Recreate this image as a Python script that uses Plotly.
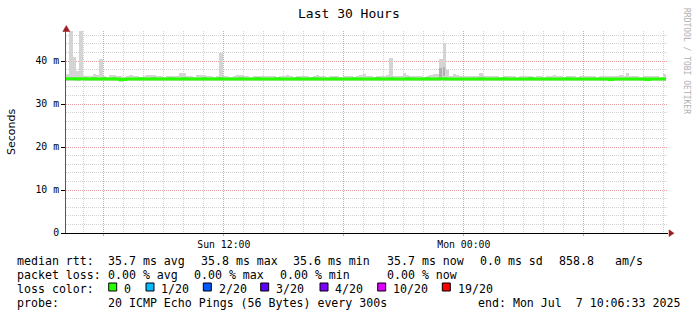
import plotly.graph_objects as go
import pandas as pd

# ---------------- data ----------------
start_time = "2025-07-06 04:06:33"
bin_minutes = 10

median_rtt = [
    35.9, 35.9, 35.9, 35.8, 35.9, 35.9, 35.8, 35.8, 35.9, 35.8, 35.8, 35.9, 35.8, 35.8, 35.9, 35.8, 35.7, 35.7, 35.8, 35.8,
    35.8, 35.8, 35.9, 35.8, 35.8, 35.8, 35.9, 35.8, 35.8, 35.8, 35.8, 35.9, 35.8, 35.8, 35.8, 35.9, 35.8, 35.8, 35.8, 35.8,
    35.8, 35.9, 35.8, 35.8, 35.8, 35.8, 35.9, 35.8, 35.8, 35.8, 35.8, 35.8, 35.9, 35.8, 35.8, 35.8, 35.8, 35.9, 35.8, 35.8,
    35.8, 35.8, 35.8, 35.9, 35.8, 35.8, 35.8, 35.8, 35.8, 35.9, 35.8, 35.8, 35.8, 35.8, 35.9, 35.8, 35.8, 35.8, 35.8, 35.8,
    35.9, 35.8, 35.8, 35.8, 35.8, 35.8, 35.9, 35.8, 35.8, 35.8, 35.8, 35.8, 35.8, 35.9, 35.8, 35.8, 35.8, 35.9, 35.8, 35.8,
    35.8, 35.8, 35.9, 35.8, 35.8, 35.8, 35.8, 35.8, 35.9, 35.8, 35.8, 35.8, 35.9, 35.9, 35.8, 35.8, 35.8, 35.8, 35.8, 35.8,
    35.8, 35.8, 35.8, 35.8, 35.9, 35.8, 35.8, 35.8, 35.8, 35.8, 35.8, 35.9, 35.8, 35.8, 35.8, 35.8, 35.8, 35.8, 35.8, 35.9,
    35.8, 35.8, 35.8, 35.8, 35.8, 35.8, 35.8, 35.8, 35.8, 35.8, 35.9, 35.8, 35.8, 35.8, 35.8, 35.8, 35.8, 35.8, 35.8, 35.8,
    35.8, 35.8, 35.8, 35.7, 35.8, 35.8, 35.8, 35.8, 35.8, 35.8, 35.8, 35.8, 35.8, 35.8, 35.7, 35.8, 35.8, 35.8, 35.8, 35.8,
]

smoke_max = [
    37.0, 47.5, 41.0, 37.6, 47.5, 36.6, 36.5, 36.4, 36.9, 36.7, 40.5, 36.5, 36.3, 36.7, 36.7, 36.6, 36.4, 36.3, 36.6, 36.7,
    36.6, 36.5, 36.3, 36.4, 36.7, 36.8, 36.7, 36.6, 36.4, 36.3, 36.4, 36.5, 36.4, 36.6, 37.3, 37.1, 36.5, 36.4, 36.3, 36.7,
    36.7, 36.8, 36.5, 36.4, 36.3, 36.5, 41.8, 36.6, 36.4, 36.3, 36.5, 36.8, 36.7, 36.5, 36.4, 36.3, 36.4, 36.6, 36.5, 36.4,
    36.5, 36.6, 36.4, 36.3, 36.4, 36.5, 36.7, 36.5, 36.3, 36.4, 36.6, 36.5, 36.4, 36.3, 36.5, 36.8, 36.6, 36.4, 36.3, 36.5,
    36.6, 36.4, 36.3, 36.5, 36.6, 36.4, 36.3, 36.5, 36.7, 36.9, 36.5, 36.4, 36.3, 36.5, 36.6, 36.4, 36.8, 40.7, 36.6, 36.4,
    36.6, 37.3, 36.8, 36.4, 36.5, 36.6, 36.4, 36.3, 36.5, 36.7, 37.0, 36.9, 40.5, 44.1, 37.8, 36.6, 37.0, 36.8, 36.5, 36.4,
    36.5, 36.6, 36.4, 36.5, 37.3, 36.6, 36.5, 36.4, 36.6, 36.5, 36.3, 36.5, 36.4, 36.6, 36.5, 36.3, 36.4, 36.6, 36.5, 36.4,
    36.3, 36.5, 36.4, 36.3, 36.5, 36.4, 36.7, 36.5, 36.4, 36.3, 36.5, 36.6, 36.4, 36.3, 36.5, 36.4, 36.6, 36.5, 36.4, 36.3,
    36.5, 36.4, 36.6, 36.5, 36.4, 36.5, 36.7, 36.5, 37.3, 36.6, 36.5, 36.4, 36.3, 36.5, 36.4, 36.6, 36.5, 36.4, 36.3, 36.9,
]

smoke_min = [
    35.4, 35.4, 35.4, 35.3, 35.4, 35.4, 35.4, 35.4, 35.4, 35.4, 35.4, 35.4, 35.3, 35.4, 35.4, 35.3, 35.2, 35.3, 35.4, 35.4,
    35.4, 35.4, 35.4, 35.4, 35.4, 35.4, 35.4, 35.4, 35.4, 35.4, 35.4, 35.4, 35.4, 35.4, 35.4, 35.4, 35.4, 35.4, 35.4, 35.4,
    35.4, 35.4, 35.4, 35.4, 35.4, 35.4, 35.4, 35.4, 35.4, 35.4, 35.4, 35.4, 35.4, 35.4, 35.4, 35.4, 35.4, 35.4, 35.4, 35.4,
    35.4, 35.4, 35.4, 35.4, 35.4, 35.4, 35.4, 35.4, 35.4, 35.4, 35.4, 35.4, 35.4, 35.4, 35.4, 35.4, 35.4, 35.4, 35.4, 35.4,
    35.4, 35.4, 35.4, 35.4, 35.4, 35.4, 35.4, 35.4, 35.4, 35.4, 35.4, 35.4, 35.4, 35.4, 35.4, 35.4, 35.4, 35.4, 35.4, 35.4,
    35.4, 35.4, 35.4, 35.4, 35.4, 35.4, 35.4, 35.4, 35.4, 35.4, 35.4, 35.4, 35.3, 35.4, 35.4, 35.4, 35.4, 35.4, 35.4, 35.4,
    35.4, 35.4, 35.4, 35.4, 35.4, 35.4, 35.4, 35.4, 35.4, 35.4, 35.4, 35.4, 35.4, 35.4, 35.4, 35.4, 35.4, 35.4, 35.4, 35.4,
    35.4, 35.4, 35.4, 35.4, 35.4, 35.4, 35.4, 35.4, 35.4, 35.4, 35.4, 35.4, 35.4, 35.4, 35.4, 35.4, 35.4, 35.4, 35.4, 35.4,
    35.4, 35.4, 35.4, 35.4, 35.4, 35.4, 35.4, 35.4, 35.4, 35.4, 35.4, 35.4, 35.4, 35.4, 35.4, 35.4, 35.4, 35.4, 35.4, 35.4,
]

dark_idx = [112, 113]
dark_lo = [36.2, 36.4]
dark_hi = [38.3, 38.7]

y_tickvals = [0, 10, 20, 30, 40]
y_ticktext = ["0", "10 m", "20 m", "30 m", "40 m"]
x_tickvals = ["2025-07-06 06:00", "2025-07-06 12:00", "2025-07-06 18:00",
              "2025-07-07 00:00", "2025-07-07 06:00"]
x_ticktext = ["", "Sun 12:00", "", "Mon 00:00", ""]

title_text = "Last 30 Hours"
y_title = "Seconds"
side_text = "RRDTOOL / TOBI OETIKER"

legend_row1 = [("median rtt:", 16), ("35.7 ms avg", 107.3), ("35.8 ms max", 200),
               ("35.6 ms min", 292.3), ("35.7 ms now", 385.7), ("0.0 ms sd", 479.3),
               ("858.8", 558.3), ("am/s", 614)]
legend_row2 = [("packet loss:", 16), ("0.00 % avg", 107.3), ("0.00 % max", 193.3),
               ("0.00 % min", 279.3), ("0.00 % now", 385.7)]
loss_labels = ["0", "1/20", "2/20", "3/20", "4/20", "10/20", "19/20"]
loss_colors = ["#26ff00", "#00b8ff", "#0059ff", "#5e00ff", "#7e00ff", "#dd00ff", "#ff0000"]
loss_box_x = [108.7, 146, 203.3, 260.7, 320, 377.7, 442.3]
probe_text = "20 ICMP Echo Pings (56 Bytes) every 300s"
end_text = "end: Mon Jul  7 10:06:33 2025"

# ---------------- geometry ----------------
W, H = 697, 315
L, R, T, B = 66, 668, 31, 233
MONO = "DejaVu Sans Mono"


def px(x):
    return (x - L) / (R - L)


def py(y):
    return (B - y) / (B - T)


t0 = pd.Timestamp(start_time)
times = pd.date_range(t0, periods=len(median_rtt), freq=f"{bin_minutes}min")
bin_ms = bin_minutes * 60 * 1000
x_end = t0 + pd.Timedelta(hours=(R - L) / 20.0)

fig = go.Figure()

fig.add_trace(go.Bar(
    x=times, base=smoke_min, y=[a - b for a, b in zip(smoke_max, smoke_min)],
    width=bin_ms, offset=0, marker=dict(color="#d4d4d4", line=dict(width=0)),
    hoverinfo="skip", showlegend=False))

fig.add_trace(go.Bar(
    x=[times[i] for i in dark_idx], base=dark_lo,
    y=[h - l for h, l in zip(dark_hi, dark_lo)],
    width=bin_ms * 0.7, offset=0, marker=dict(color="#b0b0b0", line=dict(width=0)),
    hoverinfo="skip", showlegend=False))

line_x = list(times) + [times[-1] + pd.Timedelta(minutes=bin_minutes)]
line_y = list(median_rtt) + [median_rtt[-1]]
fig.add_trace(go.Scatter(
    x=line_x, y=line_y, mode="lines", line=dict(color="#26ff00", width=3, shape="hv"),
    hoverinfo="skip", showlegend=False))

annotations = []


def txt(text, x, y, size=11.6, xanchor="left", color="black", family=MONO, angle=0):
    annotations.append(dict(
        text=text.replace(" ", "\u00a0"), x=px(x), y=py(y), xref="paper", yref="paper",
        xanchor=xanchor, yanchor="middle", showarrow=False, borderpad=0,
        textangle=angle, font=dict(family=family, size=size, color=color)))


txt(title_text, 348.5, 14, size=13, xanchor="center")
txt(y_title, 11, 132, size=11, xanchor="center", family="DejaVu Sans", angle=-90)
txt(side_text, 687, 61, size=8, xanchor="center", color="#b0b0b0", angle=90)

row_y = [261, 275, 289, 303]
for s, x in legend_row1:
    txt(s, x, row_y[0])
for s, x in legend_row2:
    txt(s, x, row_y[1])
txt("loss color:", 16, row_y[2])
shapes = []
for lab, col, bx in zip(loss_labels, loss_colors, loss_box_x):
    shapes.append(dict(type="rect", xref="paper", yref="paper",
                       x0=px(bx), x1=px(bx + 8), y0=py(291), y1=py(283),
                       fillcolor=col, line=dict(color="black", width=1)))
    txt(lab, bx + 14.3, row_y[2])
txt("probe:", 16, row_y[3])
txt(probe_text, 107.3, row_y[3])
txt(end_text, 681, row_y[3], xanchor="right")

arrow_col = "#a01c1c"
shapes.append(dict(type="path", xref="paper", yref="paper",
                   path=f"M {px(669)} {py(229.8)} L {px(674)} {py(233.2)} L {px(669)} {py(236.6)} Z",
                   fillcolor=arrow_col, line=dict(color=arrow_col, width=0.5)))
shapes.append(dict(type="path", xref="paper", yref="paper",
                   path=f"M {px(62.8)} {py(31.5)} L {px(66.3)} {py(25.5)} L {px(69.8)} {py(31.5)} Z",
                   fillcolor=arrow_col, line=dict(color=arrow_col, width=0.5)))

fig.update_layout(
    width=W, height=H, margin=dict(l=L, r=W - R, t=T, b=H - B),
    paper_bgcolor="white", plot_bgcolor="white",
    bargap=0, barmode="overlay", showlegend=False,
    annotations=annotations, shapes=shapes,
    font=dict(family=MONO, size=10, color="black"),
)

fig.update_xaxes(
    type="date", range=[t0, x_end],
    tickvals=x_tickvals, ticktext=x_ticktext,
    showgrid=True, gridcolor="#e4a0a0", griddash="1px,1px", gridwidth=1,
    ticks="outside", ticklen=2, tickcolor="#e4a0a0",
    tickfont=dict(family=MONO, size=9.8, color="black"),
    showline=True, linecolor="black", linewidth=1, zeroline=False,
    minor=dict(dtick=3600000, tick0="2025-07-06 00:00", showgrid=True,
               gridcolor="#d2d2d2", griddash="1px,1px", gridwidth=1),
)
fig.update_yaxes(
    range=[0, (B - T) / 4.3],
    tickvals=y_tickvals, ticktext=y_ticktext,
    showgrid=True, gridcolor="#e4a0a0", griddash="1px,1px", gridwidth=1,
    ticks="outside", ticklen=4, tickcolor="black",
    tickfont=dict(family=MONO, size=9.8, color="black"),
    showline=True, linecolor="#555555", linewidth=1, zeroline=False,
    minor=dict(dtick=2, showgrid=True, gridcolor="#d2d2d2", griddash="1px,1px", gridwidth=1),
)

fig.write_html("out.html")
